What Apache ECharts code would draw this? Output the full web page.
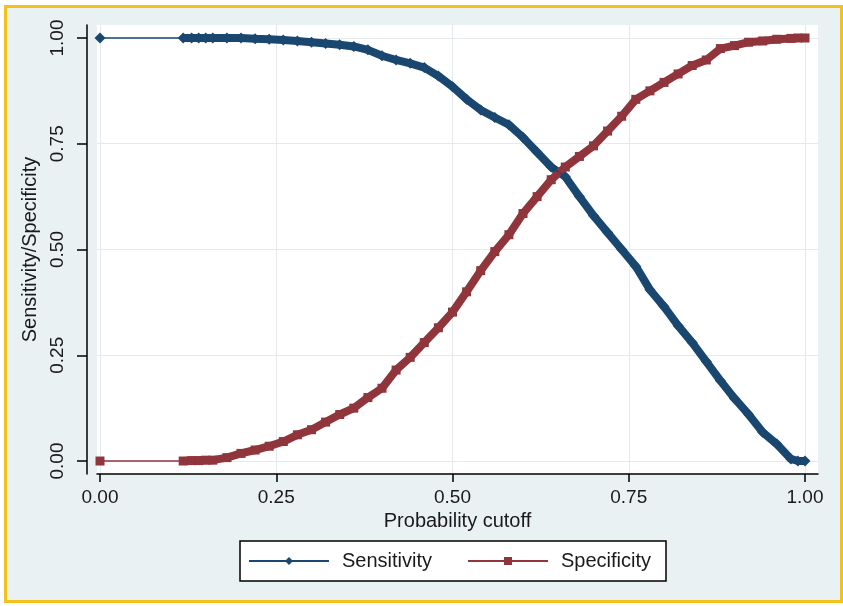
<!DOCTYPE html>
<html><head><meta charset="utf-8">
<script src="https://cdn.jsdelivr.net/npm/echarts@6/dist/echarts.min.js"></script>
<style>
html,body{margin:0;padding:0;background:#fff;}
#frame{position:absolute;left:4px;top:5px;width:833px;height:592px;border:3px solid #f2c21b;background:#eaf1f3;}
#chart{position:absolute;left:0;top:0;width:843px;height:606px;}
</style></head>
<body><div id="frame"></div><div id="chart"></div>
<script>
const cutoffs = [0, 0.118, 0.13, 0.14, 0.15, 0.16, 0.18, 0.20, 0.22, 0.24, 0.26, 0.28, 0.30, 0.32, 0.34, 0.36, 0.38, 0.40, 0.42, 0.44, 0.46, 0.48, 0.50, 0.52, 0.54, 0.56, 0.58, 0.60, 0.62, 0.64, 0.66, 0.68, 0.70, 0.72, 0.74, 0.76, 0.78, 0.80, 0.82, 0.84, 0.86, 0.88, 0.90, 0.92, 0.94, 0.96, 0.98, 0.99, 1.00];
const sensitivity = [1.0, 1.0, 1.0, 1.0, 1.0, 1.0, 1.0, 1.0, 0.998, 0.997, 0.995, 0.993, 0.99, 0.987, 0.984, 0.98, 0.972, 0.958, 0.948, 0.94, 0.93, 0.91, 0.885, 0.855, 0.83, 0.812, 0.795, 0.765, 0.73, 0.695, 0.672, 0.625, 0.58, 0.54, 0.50, 0.46, 0.405, 0.365, 0.32, 0.28, 0.235, 0.19, 0.148, 0.11, 0.068, 0.04, 0.005, 0.0, 0.0];
const specificity = [0, 0, 0.001, 0.001, 0.002, 0.002, 0.008, 0.018, 0.026, 0.035, 0.046, 0.062, 0.074, 0.092, 0.11, 0.125, 0.15, 0.172, 0.215, 0.245, 0.28, 0.315, 0.352, 0.40, 0.45, 0.495, 0.535, 0.585, 0.625, 0.665, 0.695, 0.72, 0.745, 0.78, 0.815, 0.855, 0.875, 0.895, 0.915, 0.935, 0.948, 0.975, 0.982, 0.99, 0.993, 0.997, 0.999, 1.0, 1.0];
const xTicks = [0, 0.25, 0.5, 0.75, 1];
const yTicks = [0, 0.25, 0.5, 0.75, 1];
const seriesNames = ['Sensitivity', 'Specificity'];
const xTitle = 'Probability cutoff';
const yTitle = 'Sensitivity/Specificity';

const FONT = "'Liberation Sans', Arial, sans-serif";
const NAVY = '#1a476f', MAROON = '#90353b';
const sensData = cutoffs.map((c, i) => [c, sensitivity[i]]);
const specData = cutoffs.map((c, i) => [c, specificity[i]]);

const chart = echarts.init(document.getElementById('chart'), null, {renderer: 'canvas'});
chart.setOption({
  backgroundColor: 'transparent',
  animation: false,
  grid: {left: 97, right: 25, top: 25, bottom: 132, show: true, backgroundColor: '#ffffff', borderWidth: 0, outerBoundsMode: 'none'},
  xAxis: {
    type: 'value', min: -0.00426, max: 1.01844,
    name: xTitle, nameLocation: 'middle', nameGap: 22,
    nameTextStyle: {fontFamily: FONT, fontSize: 20, color: '#1a1a1a'},
    axisLine: {show: true, onZero: false, lineStyle: {color: '#000', width: 1.5}},
    axisTick: {show: true, length: 8, customValues: xTicks, lineStyle: {color: '#000', width: 1.5}},
    axisLabel: {customValues: xTicks, margin: 14, fontFamily: FONT, fontSize: 19, color: '#1a1a1a', formatter: v => v.toFixed(2)},
    splitLine: {show: true, lineStyle: {color: '#e4eaec', width: 1}}
  },
  yAxis: {
    type: 'value', min: -0.0307, max: 1.0307, offset: 10,
    name: yTitle, nameLocation: 'middle', nameGap: 42, nameRotate: 90,
    nameTextStyle: {fontFamily: FONT, fontSize: 20, color: '#1a1a1a'},
    axisLine: {show: true, onZero: false, lineStyle: {color: '#000', width: 1.5}},
    axisTick: {show: true, length: 10, customValues: yTicks, lineStyle: {color: '#000', width: 1.5}},
    axisLabel: {customValues: yTicks, rotate: 90, margin: 20, fontFamily: FONT, fontSize: 19, color: '#1a1a1a', formatter: v => v.toFixed(2)},
    splitLine: {show: true, lineStyle: {color: '#e4eaec', width: 1}}
  },
  legend: {
    data: seriesNames,
    left: 240, top: 541,
    orient: 'horizontal',
    backgroundColor: '#ffffff', borderColor: '#000', borderWidth: 1.5, borderRadius: 0,
    padding: [8, 8, 8, 8],
    itemWidth: 80, itemHeight: 10, itemGap: 28,
    textStyle: {fontFamily: FONT, fontSize: 20, color: '#1a1a1a', lineHeight: 24, width: 97, padding: [0, 0, 0, 8]}
  },
  series: [
    {name: 'sens-band', type: 'line', data: sensData.slice(1), showSymbol: false, symbol: 'none', silent: true,
     lineStyle: {color: NAVY, width: 8}, itemStyle: {color: NAVY}, z: 2},
    {name: 'spec-band', type: 'line', data: specData.slice(1), showSymbol: false, symbol: 'none', silent: true,
     lineStyle: {color: MAROON, width: 8}, itemStyle: {color: MAROON}, z: 2},
    {name: seriesNames[0], type: 'line', data: sensData, symbol: 'diamond', symbolSize: 11,
     lineStyle: {color: NAVY, width: 1.5}, itemStyle: {color: NAVY}, z: 3},
    {name: seriesNames[1], type: 'line', data: specData, symbol: 'rect', symbolSize: 9,
     lineStyle: {color: MAROON, width: 1.5}, itemStyle: {color: MAROON}, z: 3}
  ]
});
</script>
</body></html>
